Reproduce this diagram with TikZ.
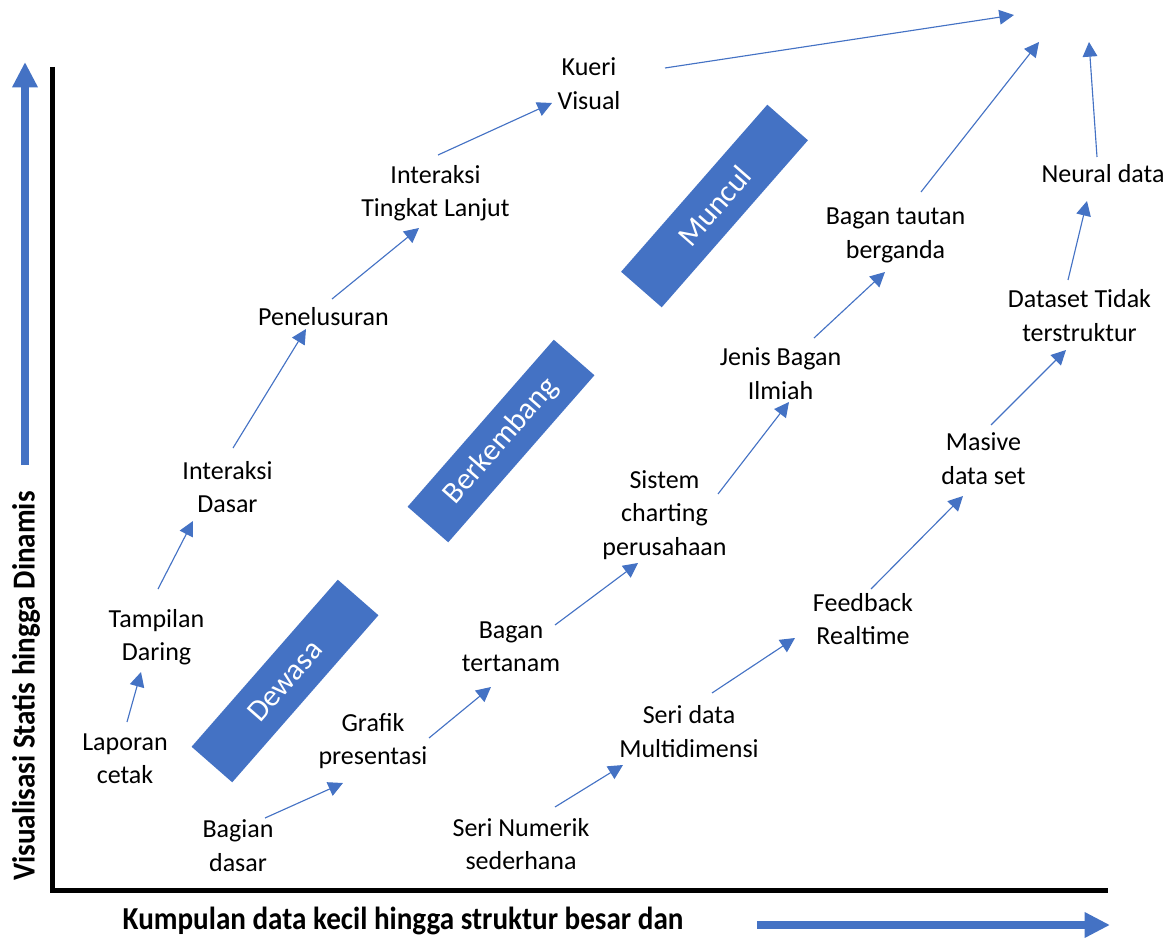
\documentclass[tikz,border=0pt]{standalone}
\usepackage{fontspec}
\setmainfont{Carlito}
\usetikzlibrary{arrows.meta,calc}
\definecolor{obl}{HTML}{4472C4}
\begin{document}
\begin{tikzpicture}[x=0.75pt,y=-0.75pt,
 lbl/.style={align=center,font=\fontsize{19.5pt}{25pt}\selectfont,inner sep=0pt},
 con/.style={draw=obl,line width=0.85pt,-{Triangle[length=11pt,width=11pt]}},
 banner/.style={fill=obl,text=white,rotate=48.8,minimum width=166.5pt,minimum height=40.5pt,inner sep=0pt,font=\fontsize{23pt}{27pt}\selectfont},
 bigarrow/.style={draw=obl,line width=6pt,-{Triangle[length=19pt,width=18pt]}},
 axisline/.style={line width=3.75pt,line join=miter},
 axlbl/.style={font=\bfseries\fontsize{24pt}{28pt}\selectfont,inner sep=0pt}]
\useasboundingbox (0,0) rectangle (1175,938);

% axes
\coordinate (ytop) at (52.5,67);
\coordinate (orig) at (52.5,890.5);
\coordinate (xend) at (1108,890.5);
\draw[axisline] (ytop) -- (orig) -- (xend);

% big blue arrows
\coordinate (va0) at (25,465);
\coordinate (va1) at (25,62);
\coordinate (ha0) at (757,925);
\coordinate (ha1) at (1110,925);
\draw[bigarrow] (va0) -- (va1);
\draw[bigarrow] (ha0) -- (ha1);

% axis labels
\node[axlbl,rotate=90] (ylab) at (26,686) {\scalebox{0.91}[1]{Visualisasi Statis hingga Dinamis}};
\node[axlbl] (xlab) at (403,921) {\scalebox{0.91}[1]{Kumpulan data kecil hingga struktur besar dan}};

% banners
\node[banner] (dew) at (285,681) {Dewasa};
\node[banner] (berk) at (501,441) {Berkembang};
\node[banner] (mun) at (714.5,206) {Muncul};

% left chain
\node[lbl] (lap) at (125,758.5) {Laporan\\cetak};
\node[lbl] (tam) at (156.5,637) {Tampilan\\Daring};
\node[lbl] (idas) at (227.5,487) {Interaksi\\Dasar};
\node[lbl] (pen) at (323.5,317) {Penelusuran};
\node[lbl] (itl) at (435.5,193.5) {Interaksi\\Tingkat Lanjut};
\node[lbl] (kue) at (589,83.5) {Kueri\\Visual};

% middle chain
\node[lbl] (bd) at (238,845.5) {Bagian\\dasar};
\node[lbl] (graf) at (373,741) {Grafik\\presentasi};
\node[lbl] (bt) at (511,647) {Bagan\\tertanam};
\node[lbl] (sis) at (664.5,515) {Sistem\\charting\\perusahaan};
\node[lbl] (jb) at (780.5,373.5) {Jenis Bagan\\Ilmiah};
\node[lbl] (btt) at (895.5,235.5) {Bagan tautan\\berganda};

% right chain
\node[lbl] (sn) at (521,844) {Seri Numerik\\sederhana};
\node[lbl] (sd) at (689,731.5) {Seri data\\Multidimensi};
\node[lbl] (fb) at (863,619) {Feedback\\Realtime};
\node[lbl] (mas) at (983.5,458.5) {Masive\\data set};
\node[lbl] (dt) at (1079.5,315.5) {Dataset Tidak\\terstruktur};
\node[lbl] (nd) at (1103,174) {Neural data};

% free ends
\coordinate (top1) at (1014,15);
\coordinate (top2) at (1039,42);
\coordinate (top3) at (1089,42);

% connectors
\draw[con] ($(lap)+(2,-36.5)$) -- ($(tam)+(-15.5,35)$);
\draw[con] ($(tam)+(1.5,-48)$) -- ($(idas)+(-34.5,34)$);
\draw[con] ($(idas)+(5.5,-39)$) -- ($(pen)+(-17.5,12)$);
\draw[con] ($(pen)+(8.5,-18)$) -- ($(itl)+(-16.5,34.5)$);
\draw[con] ($(itl)+(2.5,-38.5)$) -- ($(kue)+(-37,19.5)$);
\draw[con] ($(kue)+(76,-15.5)$) -- (top1);

\draw[con] ($(bd)+(27,-27.5)$) -- ($(graf)+(-30,42)$);
\draw[con] ($(graf)+(56,-3)$) -- ($(bt)+(-20,40)$);
\draw[con] ($(bt)+(44,-22)$) -- ($(sis)+(-26.5,48)$);
\draw[con] ($(sis)+(53.5,-21)$) -- ($(jb)+(8.5,28.5)$);
\draw[con] ($(jb)+(33.5,-35.5)$) -- ($(btt)+(-10.5,36.5)$);
\draw[con] ($(btt)+(25.5,-43.5)$) -- (top2);

\draw[con] ($(sn)+(34,-37)$) -- ($(sd)+(-66,33.5)$);
\draw[con] ($(sd)+(23,-38.5)$) -- ($(fb)+(-68,19)$);
\draw[con] ($(fb)+(8,-30)$) -- ($(mas)+(-20.5,37.5)$);
\draw[con] ($(mas)+(7.5,-33.5)$) -- ($(dt)+(-13.5,34.5)$);
\draw[con] ($(dt)+(-11.5,-35.5)$) -- ($(nd)+(-16,27)$);
\draw[con] ($(nd)+(-6,-17)$) -- (top3);
\end{tikzpicture}
\end{document}
